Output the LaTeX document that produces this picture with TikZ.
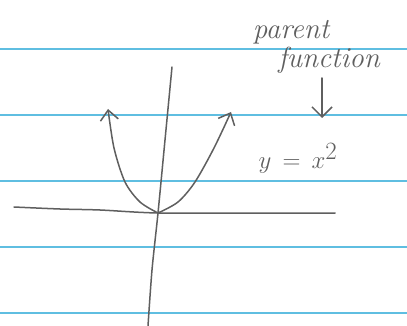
\documentclass[tikz,border=0pt]{standalone}
\usetikzlibrary{arrows.meta}
\definecolor{ruled}{RGB}{95,190,225}
\definecolor{pencil}{RGB}{95,95,95}
\tikzset{
  ruleline/.style={ruled, line width=2pt},
  pen/.style={pencil, line width=1.5pt, line cap=round, line join=round},
  penarrow/.style={pen, -{Straight Barb[length=10pt,width=18pt]}},
  note/.style={pencil, font=\fontsize{29}{30}\selectfont\itshape, inner sep=0pt}
}
\begin{document}
\begin{tikzpicture}[x=1pt,y=-1pt]
\useasboundingbox[fill=white] (0,0) rectangle (407,326);
% ruled lines
\foreach \yy in {49,115,181,247,313}{
  \draw[ruleline] (0,\yy) -- (407,\yy);
}
% axes
\coordinate (o) at (158,213);
\draw[pen] plot[smooth] coordinates {(14,207) (60,209) (100,210) (o) (250,213) (335,213)};
\draw[pen] plot[smooth] coordinates {(172,67) (165,140) (o) (152,270) (148,326)};
% parabola
\coordinate (ltip) at (108,109);
\coordinate (rtip) at (231,112);
\draw[penarrow] plot[smooth] coordinates {(o) (140,202) (125,182) (114,148) (ltip)};
\draw[penarrow] plot[smooth] coordinates {(o) (178,202) (195,182) (214,148) (rtip)};
% labels
\node[note] (parent) at (291,32) {parent};
\node[note] (func) at (329,60) {function};
\node[pencil, font=\fontsize{38}{40}\selectfont, inner sep=0pt] (eq) at (298,158) {$y \,=\, x^{2}$};
\coordinate (atip) at (322,118);
\draw[pen, -{Straight Barb[length=10pt,width=20pt]}] (322,78) -- (atip);
\end{tikzpicture}
\end{document}
